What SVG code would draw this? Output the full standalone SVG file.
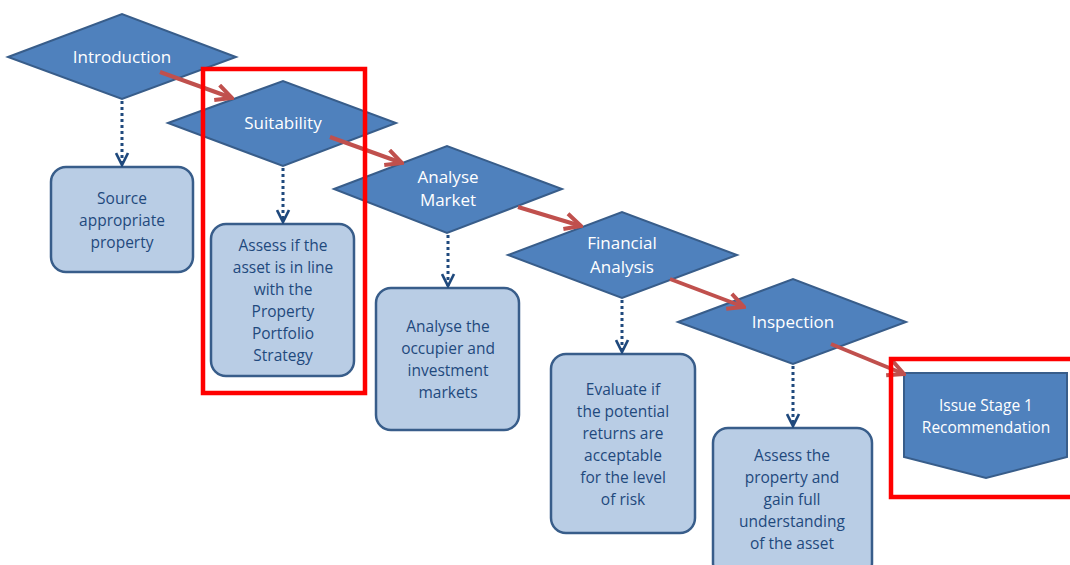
<svg xmlns="http://www.w3.org/2000/svg" width="1070" height="565" viewBox="0 0 1070 565">
<defs>
<style>
.dia{fill:#4F81BD;stroke:#385D8A;stroke-width:2}
.box{fill:#B9CDE5;stroke:#385D8A;stroke-width:2.5}
.wt{fill:#FFFFFF;font-family:"Open Sans","Liberation Sans",sans-serif;font-size:17px;text-anchor:middle}
.bt{fill:#1F497D;font-family:"Open Sans","Liberation Sans",sans-serif;font-size:15.5px;text-anchor:middle}
.red{stroke:#C0504D;stroke-width:4;fill:none;marker-end:url(#rh)}
.dot{stroke:#1F497D;stroke-width:3;fill:none;stroke-dasharray:3 3;marker-end:url(#bh)}
.hl{fill:none;stroke:#FF0000;stroke-width:4.5}
</style>
<marker id="rh" viewBox="0 0 10 10" refX="9" refY="5" markerWidth="5" markerHeight="5" markerUnits="strokeWidth" orient="auto">
<path d="M1,1 L9,5 L1,9" fill="none" stroke="#C0504D" stroke-width="2"/>
</marker>
<marker id="bh" viewBox="0 0 10 10" refX="9" refY="5" markerWidth="5" markerHeight="5" markerUnits="strokeWidth" orient="auto">
<path d="M1,1 L9,5 L1,9" fill="none" stroke="#1F497D" stroke-width="1.8"/>
</marker>
</defs>
<rect width="1070" height="565" fill="#FFFFFF"/>
<g id="introduction">
<polygon class="dia" points="8,57 122,14 236,57 122,99"/>
<text class="wt" x="122" y="63">Introduction</text>
</g>
<g id="suitability">
<polygon class="dia" points="168,123 283,81 396,123 283,166"/>
<text class="wt" x="283" y="129">Suitability</text>
</g>
<g id="analyse-market">
<polygon class="dia" points="334,189 447,146 562,189 447,233"/>
<text class="wt" x="448" y="183">Analyse</text>
<text class="wt" x="448" y="206">Market</text>
</g>
<g id="financial-analysis">
<polygon class="dia" points="508,255 622,212 737,255 622,298"/>
<text class="wt" x="622" y="249">Financial</text>
<text class="wt" x="622" y="273">Analysis</text>
</g>
<g id="inspection">
<polygon class="dia" points="678,322 793,279 906,322 793,364"/>
<text class="wt" x="793" y="328">Inspection</text>
</g>
<g id="source-box">
<rect class="box" x="51" y="167" width="142" height="105" rx="15"/>
<text class="bt"><tspan x="122" y="204">Source</tspan><tspan x="122" y="226">appropriate</tspan><tspan x="122" y="248">property</tspan></text>
</g>
<g id="assess-box">
<rect class="box" x="211" y="224" width="143" height="152" rx="15"/>
<text class="bt"><tspan x="283" y="251">Assess if the</tspan><tspan x="283" y="273">asset is in line</tspan><tspan x="283" y="295">with the</tspan><tspan x="283" y="317">Property</tspan><tspan x="283" y="339">Portfolio</tspan><tspan x="283" y="361">Strategy</tspan></text>
</g>
<g id="analyse-box">
<rect class="box" x="376" y="288" width="143" height="142" rx="15"/>
<text class="bt"><tspan x="448" y="332">Analyse the</tspan><tspan x="448" y="354">occupier and</tspan><tspan x="448" y="376">investment</tspan><tspan x="448" y="398">markets</tspan></text>
</g>
<g id="evaluate-box">
<rect class="box" x="551" y="354" width="144" height="179" rx="15"/>
<text class="bt"><tspan x="623" y="395">Evaluate if</tspan><tspan x="623" y="417">the potential</tspan><tspan x="623" y="439">returns are</tspan><tspan x="623" y="461">acceptable</tspan><tspan x="623" y="483">for the level</tspan><tspan x="623" y="505">of risk</tspan></text>
</g>
<g id="inspect-box">
<rect class="box" x="713" y="428" width="159" height="150" rx="15"/>
<text class="bt"><tspan x="792" y="461">Assess the</tspan><tspan x="792" y="483">property and</tspan><tspan x="792" y="505">gain full</tspan><tspan x="792" y="527">understanding</tspan><tspan x="792" y="549">of the asset</tspan></text>
</g>
<g id="issue-recommendation">
<polygon class="dia" points="904,373 1067,373 1067,457 986,478 904,457"/>
<text class="wt" x="986" y="411" style="font-size:15.5px">Issue Stage 1</text>
<text class="wt" x="986" y="433" style="font-size:15.5px">Recommendation</text>
</g>
<g id="connectors">
<path class="red" d="M160,72 L232,98"/>
<path class="red" d="M330,137 L402,163"/>
<path class="red" d="M518,207 L581,226"/>
<path class="red" d="M670,279 L744,307"/>
<path class="red" d="M831,344 L904,374"/>
<path class="dot" d="M122,101 L122,165"/>
<path class="dot" d="M283,168 L283,222"/>
<path class="dot" d="M448,235 L448,286"/>
<path class="dot" d="M622,300 L622,352"/>
<path class="dot" d="M793,366 L793,426"/>
</g>
<g id="highlights">
<rect class="hl" x="203" y="69" width="162" height="324"/>
<rect class="hl" x="891" y="359" width="185" height="138"/>
</g>
</svg>
